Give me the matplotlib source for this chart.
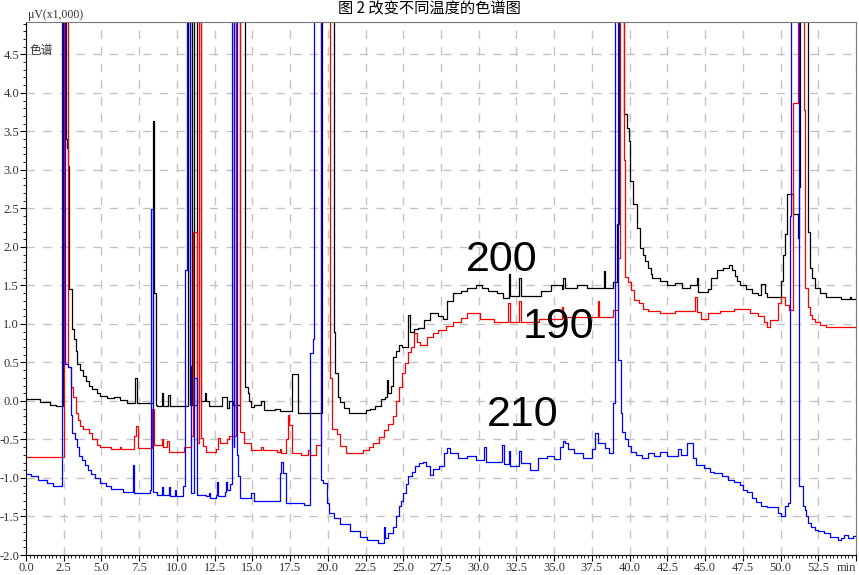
import matplotlib
matplotlib.use('Agg')
import matplotlib.pyplot as plt
from matplotlib.ticker import MultipleLocator

# 色谱数据 (min, μV x1000)，阶梯形曲线；6.0 表示超出量程的峰
trace_200 = [(0.0, 0.02), (0.9, -0.01), (1.6, -0.05), (2.0, -0.07), (2.45, 6.0),
             (2.65, 3.4), (2.72, 3.28), (2.78, 3.05), (2.85, 1.45), (3.05, 0.94),
             (3.2, 0.8), (3.3, 0.65), (3.4, 0.48), (3.6, 0.4), (3.8, 0.33),
             (4.0, 0.26), (4.2, 0.2), (4.4, 0.16), (4.7, 0.1), (4.9, 0.07),
             (5.4, 0.04), (5.8, 0.05), (6.2, 0.01), (6.7, -0.03), (7.25, 0.3),
             (7.35, -0.03), (8.4, 3.63), (8.5, 1.4), (8.6, -0.05), (8.7, -0.07),
             (9.0, 0.1), (9.05, -0.07), (9.4, 0.08), (9.55, -0.07), (10.75, 6.0),
             (10.85, -0.05), (11.0, 6.0), (11.1, -0.05), (11.3, 6.0), (11.6, 0.0),
             (11.85, 0.1), (11.95, 0.0), (12.1, -0.07), (13.0, 0.05), (13.3, -0.09),
             (13.45, 0.0), (13.7, -0.05), (14.2, 6.0), (14.5, 0.18), (14.7, 0.1),
             (14.8, 0.0), (14.9, -0.08), (15.1, -0.05), (15.6, 0.0), (15.8, -0.12),
             (16.5, -0.1), (16.8, -0.13), (17.6, 0.35), (18.0, -0.15), (19.6, 6.0),
             (20.4, 0.9), (20.5, 0.36), (20.65, 0.05), (20.8, -0.02), (21.1, -0.09),
             (21.4, -0.15), (22.5, -0.12), (22.8, -0.1), (23.1, -0.07), (23.5, 0.02),
             (23.8, 0.05), (23.9, 0.27), (24.0, 0.1), (24.2, 0.2), (24.3, 0.57),
             (24.5, 0.65), (24.7, 0.72), (24.9, 0.7), (25.3, 1.11), (25.45, 0.9),
             (25.7, 0.93), (26.0, 0.95), (26.4, 1.05), (26.8, 1.14), (27.3, 1.1),
             (27.6, 1.07), (27.9, 1.3), (28.3, 1.4), (28.8, 1.43), (29.2, 1.46),
             (29.8, 1.5), (30.2, 1.47), (30.6, 1.43), (31.2, 1.4), (31.6, 1.34),
             (32.0, 1.65), (32.1, 1.36), (32.7, 1.6), (32.8, 1.36), (34.1, 1.43),
             (34.8, 1.5), (35.5, 1.45), (35.6, 1.59), (35.7, 1.47), (36.5, 1.5),
             (37.2, 1.47), (38.3, 1.69), (38.4, 1.47), (38.9, 1.55), (39.15, 2.3),
             (39.3, 6.0), (39.6, 3.72), (39.85, 3.54), (39.95, 3.37), (40.05, 2.86),
             (40.25, 2.56), (40.5, 2.25), (40.7, 1.99), (40.9, 1.9), (41.05, 1.82),
             (41.2, 1.73), (41.4, 1.65), (41.5, 1.6), (42.0, 1.56), (42.5, 1.5),
             (43.0, 1.53), (43.5, 1.47), (44.0, 1.5), (44.45, 1.6), (44.55, 1.41),
             (45.2, 1.45), (45.4, 1.6), (45.8, 1.7), (46.2, 1.73), (46.6, 1.76),
             (46.75, 1.7), (46.95, 1.62), (47.1, 1.56), (47.3, 1.5), (47.7, 1.45),
             (48.1, 1.4), (48.5, 1.37), (48.7, 1.52), (49.0, 1.4), (49.1, 1.35),
             (50.0, 1.56), (50.15, 1.9), (50.3, 2.17), (50.45, 2.69), (50.85, 2.43),
             (51.15, 2.12), (51.25, 2.78), (51.3, 6.0), (51.8, 2.2), (51.95, 1.73),
             (52.1, 1.6), (52.3, 1.47), (52.6, 1.4), (53.0, 1.35), (54.0, 1.33),
             (54.6, 1.35), (54.7, 1.32), (55.0, 1.32)]

trace_190 = [(0.0, -0.73), (2.5, 6.0), (2.8, 0.44), (3.0, 0.18), (3.1, 0.05),
             (3.3, -0.16), (3.45, -0.25), (3.6, -0.33), (3.8, -0.36), (4.2, -0.42),
             (4.4, -0.5), (4.7, -0.57), (4.9, -0.6), (5.6, -0.62), (6.2, -0.6),
             (6.3, -0.62), (7.15, -0.46), (7.3, -0.33), (7.4, -0.61), (8.35, -0.1),
             (8.5, -0.57), (9.0, -0.5), (9.05, -0.6), (9.35, -0.52), (9.45, -0.66),
             (10.5, -0.6), (10.95, -0.45), (11.05, 2.2), (11.3, -0.55), (11.45, 6.0),
             (11.6, -0.48), (11.75, -0.58), (11.9, -0.66), (12.6, -0.63), (12.75, -0.48),
             (12.85, -0.55), (13.3, -0.5), (13.45, -0.46), (13.9, 6.0), (14.15, -0.4),
             (14.45, -0.55), (14.9, -0.64), (15.6, -0.6), (15.7, -0.64), (16.6, -0.66),
             (16.8, -0.62), (16.9, -0.67), (17.25, -0.5), (17.35, -0.18), (17.45, -0.31),
             (17.6, -0.67), (18.2, -0.7), (18.7, -0.64), (18.8, -0.7), (19.2, -0.57),
             (19.55, 6.0), (20.15, 0.3), (20.3, -0.36), (20.6, -0.43), (20.8, -0.58),
             (21.2, -0.67), (22.3, -0.64), (22.7, -0.6), (23.0, -0.55), (23.4, -0.47),
             (23.7, -0.38), (24.0, -0.3), (24.3, -0.2), (24.5, 0.0), (24.7, 0.18),
             (24.9, 0.36), (25.1, 0.49), (25.3, 0.64), (25.5, 0.7), (25.7, 0.88),
             (25.9, 0.77), (26.1, 0.72), (26.6, 0.83), (27.0, 0.88), (27.3, 0.92),
             (27.8, 0.97), (28.3, 1.03), (28.8, 1.08), (29.2, 1.14), (30.1, 1.07),
             (31.0, 1.03), (31.95, 1.27), (32.05, 1.02), (32.7, 1.3), (32.8, 1.03),
             (34.0, 1.06), (35.5, 1.22), (35.6, 1.09), (37.9, 1.3), (38.0, 1.09),
             (38.9, 1.18), (39.25, 1.86), (39.35, 6.0), (39.65, 3.13), (39.7, 1.61),
             (39.9, 1.55), (40.1, 1.44), (40.3, 1.31), (40.6, 1.27), (40.9, 1.2),
             (41.2, 1.17), (42.0, 1.14), (43.0, 1.17), (44.35, 1.35), (44.45, 1.16),
             (44.7, 1.07), (45.2, 1.14), (46.0, 1.17), (46.9, 1.2), (48.0, 1.14),
             (48.5, 1.1), (48.9, 1.02), (49.1, 0.96), (49.3, 1.05), (49.8, 1.27),
             (50.0, 1.35), (50.3, 1.25), (50.55, 1.18), (50.8, 3.87), (51.15, 6.0),
             (51.55, 3.78), (51.65, 1.47), (51.8, 1.22), (51.95, 1.12), (52.1, 1.07),
             (52.3, 1.02), (52.6, 0.99), (53.0, 0.96), (55.0, 0.96)]

trace_210 = [(0.0, -0.95), (0.3, -0.98), (0.8, -1.02), (1.4, -1.06), (1.8, -1.11),
             (2.4, 6.0), (2.6, 0.48), (2.8, 0.44), (2.95, -0.18), (3.05, -0.42),
             (3.25, -0.5), (3.35, -0.6), (3.5, -0.72), (3.7, -0.77), (3.9, -0.83),
             (4.1, -0.9), (4.3, -0.95), (4.6, -1.0), (4.9, -1.07), (5.3, -1.11),
             (5.6, -1.14), (6.4, -1.18), (7.1, -0.83), (7.15, -1.2), (8.2, -1.16),
             (8.3, 2.49), (8.4, -1.18), (8.7, -1.22), (9.0, -1.12), (9.05, -1.22),
             (9.5, -1.12), (9.55, -1.24), (9.9, -1.15), (9.95, -1.24), (10.4, -1.1),
             (10.55, 1.7), (10.7, 6.0), (10.85, 0.45), (10.95, -1.2), (11.15, 0.3),
             (11.3, -1.22), (11.9, -1.24), (12.1, -1.2), (12.2, -1.26), (12.6, -1.22),
             (12.65, -1.05), (12.75, -1.24), (13.2, -1.18), (13.25, -1.05), (13.35, -1.15),
             (13.5, -1.08), (13.65, 6.0), (13.75, -0.6), (13.8, 6.0), (13.95, -0.7),
             (14.05, -0.98), (14.2, -1.26), (14.9, -1.19), (15.1, -1.3), (16.8, -0.93),
             (16.9, -0.79), (17.0, -0.93), (17.2, -1.32), (18.4, -1.35), (18.8, 0.62),
             (19.0, 0.8), (19.1, 6.0), (19.55, -1.02), (19.7, -1.07), (19.95, -1.32),
             (20.05, -1.45), (20.4, -1.52), (20.8, -1.6), (21.5, -1.69), (22.1, -1.76),
             (22.6, -1.8), (23.3, -1.84), (23.7, -1.63), (23.8, -1.78), (24.0, -1.71),
             (24.3, -1.63), (24.55, -1.5), (24.7, -1.37), (24.85, -1.3), (25.0, -1.2),
             (25.15, -1.08), (25.3, -0.98), (25.55, -0.92), (25.8, -0.85), (26.05, -0.81),
             (26.3, -0.79), (26.5, -0.85), (26.75, -0.96), (27.0, -0.88), (27.4, -0.85),
             (27.7, -0.68), (27.9, -0.61), (28.1, -0.68), (28.6, -0.74), (29.2, -0.72),
             (29.8, -0.77), (30.35, -0.6), (30.45, -0.79), (31.55, -0.57), (31.65, -0.82),
             (32.0, -0.65), (32.1, -0.85), (32.7, -0.65), (32.8, -0.8), (33.4, -0.89),
             (33.9, -0.74), (34.5, -0.72), (35.0, -0.75), (35.4, -0.6), (35.6, -0.52),
             (35.7, -0.55), (35.9, -0.63), (36.3, -0.68), (36.9, -0.74), (37.5, -0.63),
             (37.7, -0.42), (37.9, -0.55), (38.4, -0.61), (38.6, -0.68), (38.9, -0.03),
             (39.0, 6.0), (39.2, 0.53), (39.4, -0.16), (39.5, -0.4), (39.7, -0.5),
             (39.9, -0.59), (40.1, -0.66), (40.4, -0.7), (40.8, -0.74), (41.2, -0.68),
             (41.6, -0.72), (42.0, -0.66), (42.5, -0.72), (43.2, -0.63), (43.4, -0.7),
             (43.8, -0.55), (44.2, -0.74), (44.4, -0.83), (44.9, -0.87), (45.3, -0.92),
             (45.6, -0.93), (46.1, -0.98), (46.5, -1.02), (46.9, -1.05), (47.3, -1.09),
             (47.5, -1.16), (47.8, -1.18), (48.1, -1.26), (48.4, -1.31), (48.7, -1.37),
             (49.1, -1.38), (49.8, -1.45), (50.0, -1.5), (50.3, -1.37), (50.5, -1.32),
             (50.6, 2.4), (50.7, 6.0), (51.2, 0.49), (51.25, -1.11), (51.5, -1.37),
             (51.6, -1.41), (51.7, -1.5), (51.85, -1.58), (52.0, -1.63), (52.25, -1.67),
             (52.5, -1.69), (52.9, -1.71), (53.3, -1.76), (53.8, -1.8), (54.0, -1.78),
             (54.2, -1.74), (54.5, -1.78), (54.8, -1.75), (55.0, -1.75)]

series_labels = ['200', '190', '210']
series_colors = ['black', 'red', 'blue']
label_pos = [(31.5, 1.83), (35.3, 0.96), (32.9, -0.18)]

x_ticks = [i * 2.5 for i in range(23)]
x_ticklabels = ['%.1f' % v for v in x_ticks[:-1]] + ['min']
y_ticks = [-2.0 + i * 0.5 for i in range(14)]

fig = plt.figure(figsize=(8.59, 5.75), dpi=100)
ax = fig.add_axes([26 / 859, 20 / 575, 830 / 859, 533 / 575])

for trace, c in zip([trace_200, trace_190, trace_210], series_colors):
    t, v = zip(*trace)
    ax.plot(t, v, drawstyle='steps-post', color=c, lw=0.9)

ax.set_xlim(0, 55)
ax.set_ylim(-2.0, 4.92)
ax.set_xticks(x_ticks)
ax.set_xticklabels(x_ticklabels)
ax.set_yticks(y_ticks)
ax.set_yticklabels(['%.1f' % v for v in y_ticks])
ax.xaxis.set_minor_locator(MultipleLocator(0.25))
ax.yaxis.set_minor_locator(MultipleLocator(0.1))
ax.tick_params(which='major', direction='out', length=4, width=0.8, pad=1,
               labelsize=9, labelcolor='#333333')
ax.tick_params(which='minor', direction='out', length=2, width=0.6)
for lab in ax.get_xticklabels() + ax.get_yticklabels():
    lab.set_family('Liberation Serif')
# 最后一个刻度写成 "min"，右对齐以免出界
ax.get_xticklabels()[-1].set_horizontalalignment('right')
ax.grid(True, which='major', color='#c4c4c4', linestyle=(0, (6, 6)), lw=1.0)
ax.set_axisbelow(True)
for s in ['top', 'right']:
    ax.spines[s].set_color('#777777')
for s in ['left', 'bottom']:
    ax.spines[s].set_color('black')

for lab, (x, y) in zip(series_labels, label_pos):
    ax.text(x, y, lab, fontsize=31, family='Liberation Sans', ha='center', va='center')

ax.text(0.25, 4.55, '色谱', fontsize=8.5, family=['Noto Sans CJK SC', 'DejaVu Sans'],
        va='center', color='#333333')
fig.text(28 / 859, 1 - 15 / 575, 'μV(x1,000)', fontsize=8.5, family='Liberation Serif',
         va='center', color='#333333')
fig.text(0.5, 1 - 9 / 575, '图 2 改变不同温度的色谱图', fontsize=11, ha='center', va='center',
         family=['Noto Sans CJK SC', 'DejaVu Sans'])

fig.savefig('out.png', dpi=100)
